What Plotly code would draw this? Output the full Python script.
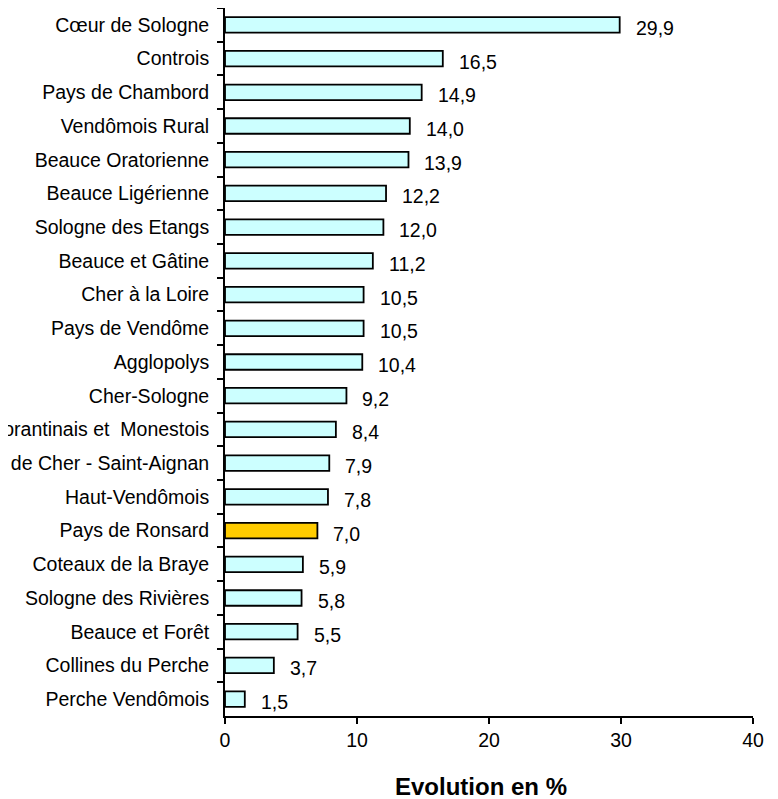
import plotly.graph_objects as go

categories = ["Cœur de Sologne", "Controis", "Pays de Chambord", "Vendômois Rural",
              "Beauce Oratorienne", "Beauce Ligérienne", "Sologne des Etangs",
              "Beauce et Gâtine", "Cher à la Loire", "Pays de Vendôme", "Agglopolys",
              "Cher-Sologne", "Romorantinais et  Monestois", "Val de Cher - Saint-Aignan",
              "Haut-Vendômois", "Pays de Ronsard", "Coteaux de la Braye",
              "Sologne des Rivières", "Beauce et Forêt", "Collines du Perche",
              "Perche Vendômois"]
values = [29.9, 16.5, 14.9, 14.0, 13.9, 12.2, 12.0, 11.2, 10.5, 10.5, 10.4,
          9.2, 8.4, 7.9, 7.8, 7.0, 5.9, 5.8, 5.5, 3.7, 1.5]
highlight = "Pays de Ronsard"
value_labels = [f"{v:.1f}".replace(".", ",") for v in values]
x_ticks = [0, 10, 20, 30, 40]
x_title = "Evolution en %"

colors = ["#FFCC00" if c == highlight else "#CCFFFF" for c in categories]
FONT = "Liberation Sans, Arial, sans-serif"

fig = go.Figure()
fig.add_trace(go.Bar(
    y=categories, x=values, orientation="h",
    marker=dict(color=colors, line=dict(color="black", width=1.8)),
    width=0.46, hoverinfo="skip",
))

for c, v, t in zip(categories, values, value_labels):
    fig.add_annotation(x=v, y=c, text=t, showarrow=False, xanchor="left",
                       yanchor="middle", xshift=14, yshift=-3,
                       font=dict(family=FONT, size=19.5, color="black"))

fig.add_annotation(x=0.485, y=0, xref="paper", yref="paper", yshift=-70,
                   text=f"<b>{x_title}</b>", showarrow=False,
                   xanchor="center", yanchor="middle",
                   font=dict(family=FONT, size=24, color="black"))

fig.update_layout(
    width=770, height=791,
    margin=dict(l=217, r=25, t=0, b=83),
    plot_bgcolor="white", paper_bgcolor="white",
    showlegend=False,
    font=dict(family=FONT, size=19.5, color="black"),
    xaxis=dict(range=[0, 40], tickvals=x_ticks,
               showgrid=False, zeroline=False, showline=True, linecolor="black",
               linewidth=1.8, ticks="outside", ticklen=6, tickwidth=1.8,
               tickcolor="black", tickfont=dict(size=19.5),
               automargin=False, fixedrange=True),
    yaxis=dict(autorange="reversed", showgrid=False, zeroline=False, showline=True,
               linecolor="black", linewidth=1.8, ticks="outside", ticklen=6,
               tickwidth=1.8, tickcolor="black", tickson="boundaries",
               ticklabelstandoff=10, tickfont=dict(size=19.5),
               automargin=False, fixedrange=True),
)

fig.write_html("out.html")
